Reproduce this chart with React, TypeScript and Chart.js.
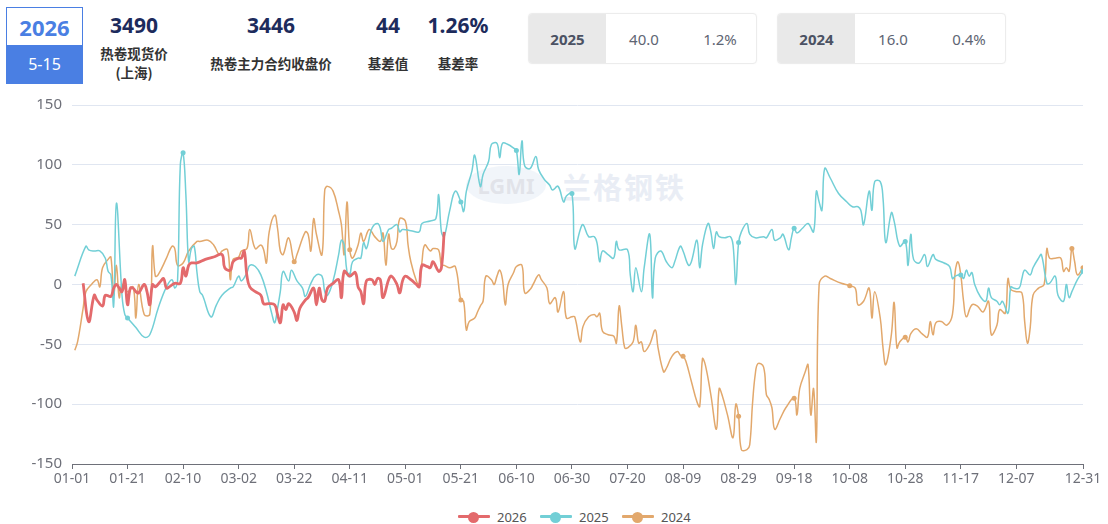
import React, { useEffect, useRef } from 'react';
import { Chart, registerables } from 'chart.js';

Chart.register(...registerables);

// ---- axis ticks ----
const xTickDays = [0, 20, 40, 60, 80, 100, 120, 140, 160, 180, 200, 220, 240, 260, 280, 300, 320, 340, 364];
const xTickLabels = ['01-01', '01-21', '02-10', '03-02', '03-22', '04-11', '05-01', '05-21', '06-10', '06-30', '07-20', '08-09', '08-29', '09-18', '10-08', '10-28', '11-17', '12-07', '12-31'];
const yTicks = [-150, -100, -50, 0, 50, 100, 150];

// ---- series (day of year, basis value) ----
const days2026 = [4, 6, 8, 9, 11, 12, 14, 15, 16, 17, 18, 19, 20, 21, 22, 23, 24, 26, 27, 28, 29, 30, 32, 33, 34, 35, 37, 39, 40, 41, 42, 43, 45, 48, 51, 54, 55, 57, 58, 60, 61, 62, 63, 64, 66, 68, 69, 71, 73, 74, 75, 76, 77, 78, 80, 81, 82, 84, 85, 87, 88, 89, 90, 91, 92, 94, 96, 97, 98, 100, 102, 103, 104, 105, 106, 108, 109, 110, 111, 112, 114, 115, 117, 118, 119, 120, 122, 124, 125, 126, 128, 129, 130, 132, 133, 134];
const values2026 = [1, -31, -9, -13, -18, -9, -10, -3, 0, -3, -6, 4, -17, -3, -3, -6, -7, 0, -6, -17, 0, -2, 3, 5, -3, -2, 1, 1, 14, 7, 16, 18, 18, 21, 23, 25, 14, 12, 19, 22, 22, 28, 7, -2, -6, -9, -16, -16, -17, -25, -32, -17, -21, -16, -23, -30, -20, -13, -11, -3, -17, -3, -13, -14, -3, 1, 4, -11, 11, 7, 10, -2, -6, -16, 3, 4, 0, 5, 4, -11, 4, 7, 0, -7, 3, 7, 4, 0, -2, 16, 15, 14, 19, 11, 14, 44];

const days2025 = [1, 5, 6, 8, 10, 12, 13, 14, 15, 16, 18, 19, 20, 23, 26, 28, 31, 34, 36, 37, 38, 39, 40, 41, 42, 43, 44, 45, 46, 47, 50, 52, 54, 57, 58, 60, 61, 63, 64, 66, 68, 70, 72, 73, 74, 75, 76, 78, 79, 81, 83, 84, 86, 88, 90, 91, 92, 94, 96, 97, 98, 99, 100, 101, 103, 104, 105, 106, 108, 110, 111, 112, 114, 115, 117, 118, 119, 122, 125, 126, 129, 131, 132, 133, 134, 136, 138, 140, 141, 142, 144, 145, 147, 148, 150, 151, 153, 154, 155, 157, 159, 160, 161, 162, 163, 165, 167, 168, 170, 172, 173, 175, 177, 178, 180, 181, 183, 184, 186, 188, 189, 190, 191, 193, 195, 196, 197, 200, 201, 202, 203, 205, 206, 208, 209, 210, 212, 214, 216, 217, 219, 220, 222, 223, 225, 226, 227, 229, 230, 231, 232, 233, 235, 237, 238, 239, 240, 241, 243, 244, 246, 249, 250, 252, 253, 255, 256, 258, 259, 260, 261, 263, 265, 267, 268, 269, 270, 271, 273, 276, 279, 281, 283, 284, 285, 287, 288, 289, 291, 292, 293, 295, 296, 298, 300, 301, 302, 303, 305, 307, 308, 310, 311, 314, 316, 317, 318, 320, 321, 322, 323, 324, 325, 327, 329, 330, 331, 333, 334, 335, 337, 338, 339, 341, 342, 343, 345, 346, 348, 349, 351, 352, 354, 355, 357, 358, 359, 360, 362, 364];
const values2025 = [7, 32, 29, 28, 28, 22, 11, 8, -18, 68, -9, -25, -28, -36, -44, -42, -20, -2, 4, -3, 3, 100, 110, 75, 19, 30, 32, 10, -6, -9, -27, -17, -9, -3, -2, 7, 3, 10, 16, 15, 8, -6, -25, -32, -20, -6, 11, 3, 12, 3, -3, -10, 1, 8, 7, -6, -9, 3, 25, 37, 33, 11, 8, 19, 22, 22, 35, 30, 47, 51, 47, 36, 46, 47, 50, 44, 46, 45, 44, 51, 53, 55, 75, 44, 40, 62, 78, 69, 61, 78, 95, 108, 82, 92, 103, 117, 118, 106, 118, 117, 114, 112, 92, 120, 99, 97, 107, 96, 88, 83, 79, 82, 69, 74, 76, 30, 46, 50, 40, 40, 35, 19, 28, 25, 22, 36, 29, 29, 8, -6, 14, -6, 14, 42, -11, 22, 28, 19, 14, 19, 32, 28, 16, 19, 37, 14, 33, 51, 44, 30, 44, 40, 39, 40, 33, 0, 35, 44, 51, 42, 39, 40, 39, 46, 37, 39, 42, 29, 39, 47, 43, 47, 51, 44, 78, 69, 62, 97, 89, 76, 69, 65, 65, 62, 50, 78, 62, 86, 86, 72, 35, 60, 53, 32, 36, 16, 42, 21, 18, 25, 15, 25, 21, 18, 15, 5, 7, 8, 5, 12, 7, 10, 0, -10, -14, -3, -11, -14, -17, -14, -24, -2, -3, -3, 5, 12, 8, 14, 22, 25, 1, 1, 7, -9, -14, 0, -11, -6, 4, 11];

const days2024 = [1, 2, 4, 5, 7, 9, 10, 11, 13, 14, 15, 16, 17, 18, 20, 22, 23, 24, 26, 28, 29, 30, 31, 34, 36, 37, 38, 40, 42, 45, 46, 49, 51, 53, 54, 56, 57, 58, 60, 61, 63, 64, 66, 68, 69, 70, 71, 73, 74, 75, 76, 78, 80, 81, 84, 85, 86, 87, 88, 90, 91, 92, 94, 96, 97, 98, 99, 100, 101, 103, 104, 105, 107, 109, 111, 112, 113, 114, 115, 116, 117, 118, 120, 121, 122, 124, 125, 126, 127, 129, 130, 132, 133, 134, 136, 138, 140, 141, 142, 143, 145, 146, 147, 148, 149, 151, 152, 153, 154, 155, 156, 157, 159, 160, 162, 163, 165, 166, 168, 169, 171, 172, 174, 175, 177, 178, 180, 181, 183, 184, 186, 188, 189, 190, 191, 193, 195, 196, 197, 198, 199, 200, 202, 203, 204, 205, 206, 208, 210, 211, 213, 214, 216, 218, 219, 220, 221, 223, 225, 226, 227, 228, 230, 232, 233, 234, 236, 238, 239, 240, 241, 243, 244, 245, 246, 247, 249, 250, 251, 252, 253, 255, 257, 260, 261, 262, 264, 265, 266, 267, 268, 269, 271, 273, 277, 280, 282, 283, 285, 287, 288, 289, 291, 292, 293, 295, 296, 297, 298, 300, 301, 302, 304, 306, 308, 309, 310, 311, 313, 315, 317, 318, 319, 320, 321, 322, 324, 326, 328, 330, 331, 333, 334, 336, 337, 338, 340, 342, 343, 344, 345, 346, 348, 350, 351, 352, 354, 356, 357, 358, 359, 360, 361, 362, 364];
const values2024 = [-55, -48, -20, -6, 0, 4, -2, 14, 21, 23, -9, 16, -11, 0, -6, -2, -28, 0, -25, -25, 32, 7, 8, 22, 32, 30, 16, 18, 28, 36, 36, 37, 33, 25, 28, 29, 4, 21, 23, 28, 30, 46, 30, 33, 29, 18, 44, 58, 47, 28, 25, 39, 19, 25, 44, 42, 28, 55, 42, 25, 79, 82, 78, 61, 50, 25, 69, 29, 22, 33, 43, 36, 46, 40, 36, 43, 16, 42, 30, 30, 36, 55, 53, 33, 19, 3, 0, 19, 33, 28, 30, 29, 16, 16, 14, 15, -13, -14, -38, -31, -28, -23, -18, -14, 7, 4, 0, 7, 12, 4, -17, 0, 10, 15, 16, -7, -4, 0, 8, 4, -3, -16, -11, -23, -6, -28, -27, -27, -48, -35, -27, -25, -27, -24, -39, -42, -43, -49, -18, -36, -53, -53, -48, -34, -49, -48, -56, -50, -38, -53, -73, -70, -60, -56, -59, -60, -64, -81, -98, -102, -62, -67, -92, -121, -87, -92, -109, -128, -100, -110, -138, -138, -134, -100, -75, -66, -69, -92, -96, -103, -121, -112, -103, -95, -109, -87, -73, -67, -109, -87, -131, 0, 7, 5, 1, -1, -3, -17, -14, -3, -28, -6, -28, -53, -67, -42, -15, -53, -48, -44, -48, -41, -37, -41, -44, -31, -42, -32, -31, -34, -25, 11, 19, 8, -14, -27, -17, -18, -23, -14, -42, -34, -21, -24, 5, -4, -6, -7, -31, -49, -36, -9, -3, 0, 30, 22, 22, 22, 11, 14, 11, 30, 19, 8, 14];

const markers2025 = [20, 40, 100, 140, 160, 180, 240, 260, 300, 320, 364];
const markers2024 = [80, 100, 140, 220, 240, 260, 280, 300, 360, 364];

const COLOR_2026 = '#e36a6c';
const COLOR_2025 = '#72cfd6';
const COLOR_2024 = '#e2a86c';
const AXIS_TEXT = '#6e7079';

const toPoints = (days: number[], vals: number[]) => days.map((d, i) => ({ x: d, y: vals[i] }));

const cjk = '"Noto Sans CJK SC", "Noto Sans", sans-serif';
const latin = '"Noto Sans", "Noto Sans CJK SC", sans-serif';

function Stat({ cx, value, label, label2 }: { cx: number; value: string; label: string; label2?: string }) {
  return (
    <>
      <div style={{ position: 'absolute', left: cx - 80, width: 160, top: 10, textAlign: 'center', fontFamily: latin, fontWeight: 700, fontSize: 21, lineHeight: '30px', color: '#1d2b5c' }}>{value}</div>
      {label2 ? (
        <>
          <div style={{ position: 'absolute', left: cx - 80, width: 160, top: 43, textAlign: 'center', fontFamily: cjk, fontWeight: 700, fontSize: 13.5, lineHeight: '20px', color: '#333' }}>{label}</div>
          <div style={{ position: 'absolute', left: cx - 80, width: 160, top: 62, textAlign: 'center', fontFamily: cjk, fontWeight: 700, fontSize: 13.5, lineHeight: '20px', color: '#333' }}>{label2}</div>
        </>
      ) : (
        <div style={{ position: 'absolute', left: cx - 100, width: 200, top: 53, textAlign: 'center', fontFamily: cjk, fontWeight: 700, fontSize: 13.5, lineHeight: '20px', color: '#333' }}>{label}</div>
      )}
    </>
  );
}

function YearBox({ left, year, v1, v2 }: { left: number; year: string; v1: string; v2: string }) {
  return (
    <div style={{ position: 'absolute', left, top: 13, width: 229, height: 51, border: '1px solid #ececec', borderRadius: 4, boxSizing: 'border-box', overflow: 'hidden', background: '#fff', boxShadow: '0 0 2px rgba(0,0,0,0.04)' }}>
      <div style={{ position: 'absolute', left: 0, top: 0, width: 77, height: '100%', background: '#e9e9e9', display: 'flex', alignItems: 'center', justifyContent: 'center', fontFamily: latin, fontWeight: 700, fontSize: 15, color: '#4b5263' }}>{year}</div>
      <div style={{ position: 'absolute', left: 77, top: 0, width: 76, height: '100%', display: 'flex', alignItems: 'center', justifyContent: 'center', fontFamily: latin, fontSize: 15, color: '#5e6573' }}>{v1}</div>
      <div style={{ position: 'absolute', left: 153, top: 0, width: 76, height: '100%', display: 'flex', alignItems: 'center', justifyContent: 'center', fontFamily: latin, fontSize: 15, color: '#5e6573' }}>{v2}</div>
    </div>
  );
}

function LegendItem({ left, color, text }: { left: number; color: string; text: string }) {
  return (
    <div style={{ position: 'absolute', left, top: 507, height: 20, width: 80 }}>
      <div style={{ position: 'absolute', left: 0, top: 8, width: 32, height: 3, background: color, borderRadius: 1 }} />
      <div style={{ position: 'absolute', left: 10, top: 4.5, width: 11, height: 11, borderRadius: '50%', background: color }} />
      <div style={{ position: 'absolute', left: 39, top: 0, fontFamily: latin, fontSize: 13, lineHeight: '20px', color: '#555' }}>{text}</div>
    </div>
  );
}

export default function App() {
  const canvasRef = useRef<HTMLCanvasElement | null>(null);

  useEffect(() => {
    const canvas = canvasRef.current;
    if (!canvas) return;
    const mkRadius = (markers: number[]) => (ctx: any) => (ctx.raw && markers.includes(ctx.raw.x) ? 2.5 : 0);
    const chart = new Chart(canvas, {
      type: 'line',
      data: {
        datasets: [
          {
            label: '2026',
            data: toPoints(days2026, values2026),
            borderColor: COLOR_2026,
            backgroundColor: COLOR_2026,
            borderWidth: 2.8,
            pointRadius: 0,
            tension: 0.4,
          },
          {
            label: '2025',
            data: toPoints(days2025, values2025),
            borderColor: COLOR_2025,
            backgroundColor: COLOR_2025,
            borderWidth: 1.5,
            pointRadius: mkRadius(markers2025),
            pointBorderWidth: 0,
            tension: 0.4,
          },
          {
            label: '2024',
            data: toPoints(days2024, values2024),
            borderColor: COLOR_2024,
            backgroundColor: COLOR_2024,
            borderWidth: 1.5,
            pointRadius: mkRadius(markers2024),
            pointBorderWidth: 0,
            tension: 0.4,
          },
        ],
      },
      options: {
        animation: false,
        responsive: false,
        devicePixelRatio: 1,
        layout: { padding: { top: 15, right: 25, left: 0, bottom: 0 } },
        plugins: { legend: { display: false }, tooltip: { enabled: false } },
        scales: {
          x: {
            type: 'linear',
            min: 0,
            max: 364,
            afterBuildTicks: (scale: any) => {
              scale.ticks = xTickDays.map((v) => ({ value: v }));
            },
            afterFit: (scale: any) => {
              scale.height = 26;
            },
            ticks: {
              autoSkip: false,
              maxRotation: 0,
              padding: 2,
              color: AXIS_TEXT,
              font: { family: latin, size: 14 },
              callback: (v: any) => {
                const i = xTickDays.indexOf(Number(v));
                return i >= 0 ? xTickLabels[i] : '';
              },
            },
            grid: { display: true, drawOnChartArea: false, drawTicks: true, tickLength: 5, tickColor: AXIS_TEXT, color: AXIS_TEXT },
            border: { display: true, color: AXIS_TEXT },
          },
          y: {
            min: -150,
            max: 150,
            afterBuildTicks: (scale: any) => {
              scale.ticks = yTicks.map((v) => ({ value: v }));
            },
            afterFit: (scale: any) => {
              scale.width = 72;
              scale.paddingTop = 0;
              scale.paddingBottom = 0;
            },
            ticks: { padding: 10, color: AXIS_TEXT, font: { family: latin, size: 15 } },
            grid: { color: '#e0e6f1', lineWidth: 1, drawTicks: false },
            border: { display: false },
          },
        },
      },
    } as any);
    return () => chart.destroy();
  }, []);

  return (
    <div style={{ position: 'fixed', left: 0, top: 0, width: 1108, height: 524, background: '#fff', overflow: 'hidden' }}>
      {/* date box */}
      <div style={{ position: 'absolute', left: 6, top: 7, width: 77, height: 77, border: '1.5px solid #4a7fe3', boxSizing: 'border-box', background: '#fff' }}>
        <div style={{ position: 'absolute', left: 0, top: 0, width: '100%', height: 37, display: 'flex', alignItems: 'center', justifyContent: 'center', fontFamily: latin, fontWeight: 700, fontSize: 22, color: '#4a7fe3' }}>2026</div>
        <div style={{ position: 'absolute', left: 0, top: 37, width: '100%', height: 38, background: '#4a7fe3', display: 'flex', alignItems: 'center', justifyContent: 'center', fontFamily: latin, fontSize: 16, color: '#fff' }}>5-15</div>
      </div>
      <Stat cx={134} value="3490" label="热卷现货价" label2="(上海)" />
      <Stat cx={271} value="3446" label="热卷主力合约收盘价" />
      <Stat cx={388} value="44" label="基差值" />
      <Stat cx={458} value="1.26%" label="基差率" />
      <YearBox left={528} year="2025" v1="40.0" v2="1.2%" />
      <YearBox left={777} year="2024" v1="16.0" v2="0.4%" />

      {/* watermark */}
      <div style={{ position: 'absolute', left: 466, top: 166, width: 80, height: 38, borderRadius: '50%', background: 'rgba(215,225,240,0.35)', display: 'flex', alignItems: 'center', justifyContent: 'center', fontFamily: latin, fontWeight: 700, fontSize: 22, color: 'rgba(215,215,222,0.6)' }}>LGMI</div>
      <div style={{ position: 'absolute', left: 562, top: 166, fontFamily: cjk, fontWeight: 700, fontSize: 29, lineHeight: '40px', letterSpacing: 2, color: 'rgba(226,232,242,0.75)' }}>兰格钢铁</div>

      <canvas ref={canvasRef} width={1108} height={400} style={{ position: 'absolute', left: 0, top: 90, width: 1108, height: 400 }} />

      <LegendItem left={458} color={COLOR_2026} text="2026" />
      <LegendItem left={540} color={COLOR_2025} text="2025" />
      <LegendItem left={622} color={COLOR_2024} text="2024" />
    </div>
  );
}
